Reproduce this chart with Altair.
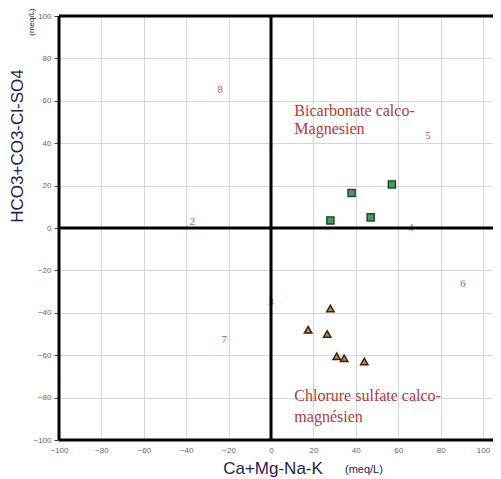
import altair as alt
import pandas as pd

# --- data ---
sq_x = [28, 38, 47, 57]
sq_y = [3.5, 16.5, 5, 20.5]

tri_x = [28, 17.5, 26.5, 31, 34.5, 44]
tri_y = [-38, -48, -50, -60.5, -61.5, -63]

num_labels = ["8", "1", "2", "5", "4", "6", "3", "7"]
num_x = [-24, 0, -37, 74, 66, 90.5, 0, -22]
num_y = [65, 40.5, 3, 43.5, 0, -26.5, -35, -53]

zone_text = ["Bicarbonate calco-", "Magnesien", "Chlorure sulfate calco-", "magnésien"]
zone_x = [11, 11, 11, 11]
zone_y = [52.8, 44.3, -81.6, -91.5]

tick_values = list(range(-100, 101, 10))

XMIN, XMAX = -100, 104.7
YMIN, YMAX = -100, 100

xs = alt.Scale(domain=[XMIN, XMAX], nice=False, zero=False)
ys = alt.Scale(domain=[YMIN, YMAX], nice=False, zero=False)

base_df = pd.DataFrame({"x": [0], "y": [0]})

grid = alt.Chart(base_df).mark_point(opacity=0).encode(
    x=alt.X("x:Q", scale=xs, title=None,
            axis=alt.Axis(values=tick_values, grid=True, gridColor="#d6d6d6", gridWidth=1,
                          domain=False, ticks=False, labelPadding=6, labelFontSize=8,
                          labelColor="#666666", labelFont="Liberation Sans", labelFlush=False)),
    y=alt.Y("y:Q", scale=ys, title=None,
            axis=alt.Axis(values=tick_values, grid=True, gridColor="#d6d6d6", gridWidth=1,
                          domain=False, ticks=True, tickSize=5, tickColor="#444444",
                          labelPadding=3, labelFontSize=8, labelColor="#666666",
                          labelFont="Liberation Sans", labelFlush=False)),
)

num_df = pd.DataFrame({"t": num_labels, "x": num_x, "y": num_y})
nums = alt.Chart(num_df).mark_text(font="Liberation Serif", fontSize=11, color="#c65555").encode(
    x=alt.X("x:Q", scale=xs), y=alt.Y("y:Q", scale=ys), text="t:N")

frame_df = pd.DataFrame({
    "x": [XMIN, XMIN, XMIN, XMIN, 0],
    "x2": [XMAX, XMAX, XMAX, XMIN, 0],
    "y": [YMAX, 0, YMIN, YMIN, YMIN],
    "y2": [YMAX, 0, YMIN, YMAX, YMAX],
})
frame = alt.Chart(frame_df).mark_rule(color="black", strokeWidth=3).encode(
    x=alt.X("x:Q", scale=xs), x2="x2:Q", y=alt.Y("y:Q", scale=ys), y2="y2:Q")

zone_df = pd.DataFrame({"t": zone_text, "x": zone_x, "y": zone_y})
zones = alt.Chart(zone_df).mark_text(font="Liberation Serif", fontSize=16, color="#b03a3a",
                                     align="left", baseline="alphabetic").encode(
    x=alt.X("x:Q", scale=xs), y=alt.Y("y:Q", scale=ys), text="t:N")

sq_df = pd.DataFrame({"x": sq_x, "y": sq_y})
squares = alt.Chart(sq_df).mark_point(shape="square", filled=True, size=50, fill="#4f9a63",
                                      stroke="#1d4a28", strokeWidth=1.5, opacity=1).encode(
    x=alt.X("x:Q", scale=xs), y=alt.Y("y:Q", scale=ys))

tri_df = pd.DataFrame({"x": tri_x, "y": tri_y})
triangles = alt.Chart(tri_df).mark_point(shape="triangle-up", filled=True, size=55, fill="#c08850",
                                         stroke="#3d2410", strokeWidth=1.5, opacity=1).encode(
    x=alt.X("x:Q", scale=xs), y=alt.Y("y:Q", scale=ys))

title_df = pd.DataFrame({"t": ["HCO3+CO3-Cl-SO4"]})
ytitle = alt.Chart(title_df).mark_text(font="Liberation Sans", fontSize=17, color="#1e2350",
                                       angle=270, baseline="middle", align="center").encode(
    x=alt.value(-41), y=alt.value(130), text="t:N")
yunit = alt.Chart(pd.DataFrame({"t": ["(meq/L)"]})).mark_text(
    font="Liberation Sans", fontSize=8, color="#1e2350", angle=270, baseline="middle",
    align="center").encode(x=alt.value(-27), y=alt.value(6), text="t:N")

xtitle = alt.Chart(pd.DataFrame({"t": ["Ca+Mg-Na-K"]})).mark_text(
    font="Liberation Sans", fontSize=17, color="#1e2350", baseline="alphabetic",
    align="center").encode(x=alt.value(214), y=alt.value(458), text="t:N")
xunit = alt.Chart(pd.DataFrame({"t": ["(meq/L)"]})).mark_text(
    font="Liberation Sans", fontSize=11, color="#1e2350", baseline="alphabetic",
    align="left").encode(x=alt.value(286), y=alt.value(457), text="t:N")

chart = alt.layer(grid, nums, frame, zones, squares, triangles, ytitle, yunit, xtitle, xunit).properties(
    width=434, height=424,
    autosize=alt.AutoSizeParams(type="none"),
    padding={"left": 51, "top": 8, "right": 0, "bottom": 39},
).configure_view(stroke=None).configure(background="white")

chart.save("out.html", embed_options={"renderer": "svg", "actions": False})
